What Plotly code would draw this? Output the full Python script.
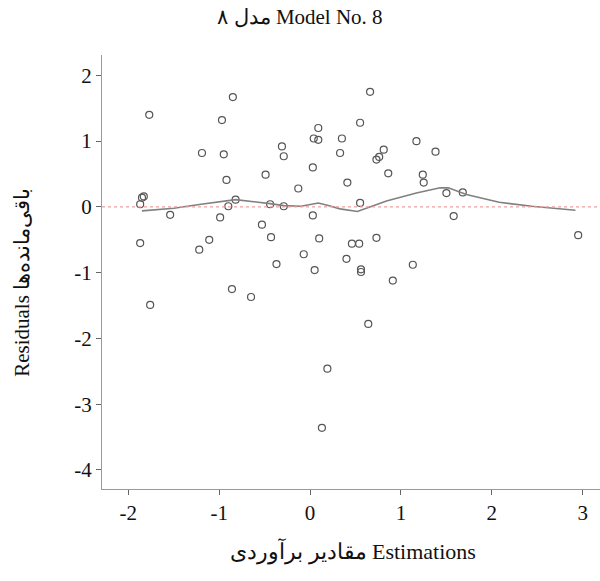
import plotly.graph_objects as go

# Residuals vs. estimated values for model no. 8
estimations = [
    -1.77, -0.85, -0.97, -1.19, -0.95, -0.92, -0.49, -0.31, -0.29, 0.03,
    -0.13, 0.04, 0.09, 0.09, 0.35, 0.33, -1.85, -1.83, -1.87, -1.54,
    -0.99, -0.90, -0.82, -0.44, -0.29, 0.03, -0.53, -0.43, -1.87, -1.11,
    -1.22, -0.07, 0.10, -0.37, 0.05, -0.86, -0.65, -1.76, 0.19, 0.13,
    0.66, 0.55, 0.81, 0.73, 0.76, 1.17, 1.38, 0.86, 0.41, 1.24,
    1.25, 1.50, 1.68, 0.55, 1.58, 2.95, 0.46, 0.54, 0.73, 0.40,
    0.56, 0.56, 0.91, 1.13, 0.64,
]
residuals = [
    1.40, 1.67, 1.32, 0.82, 0.80, 0.41, 0.49, 0.92, 0.77, 0.60,
    0.28, 1.04, 1.02, 1.20, 1.04, 0.82, 0.14, 0.16, 0.04, -0.12,
    -0.16, 0.01, 0.11, 0.04, 0.01, -0.13, -0.27, -0.46, -0.55, -0.50,
    -0.65, -0.72, -0.48, -0.87, -0.96, -1.25, -1.37, -1.49, -2.46, -3.36,
    1.75, 1.28, 0.87, 0.72, 0.76, 1.00, 0.84, 0.51, 0.37, 0.49,
    0.37, 0.21, 0.22, 0.06, -0.14, -0.43, -0.56, -0.56, -0.47, -0.79,
    -0.99, -0.95, -1.12, -0.88, -1.78,
]

# Smoothed trend through the residuals
smooth_x = [-1.85, -1.5, -1.2, -0.82, -0.44, -0.29, -0.1, 0.09, 0.2, 0.33,
            0.52, 0.84, 1.17, 1.43, 1.52, 1.72, 2.08, 2.44, 2.92]
smooth_y = [-0.06, -0.02, 0.04, 0.11, 0.05, 0.02, 0.01, 0.06, 0.02, -0.03,
            -0.07, 0.09, 0.21, 0.29, 0.29, 0.19, 0.07, 0.01, -0.05]

x_ticks = [-2, -1, 0, 1, 2, 3]
y_ticks = [2, 1, 0, -1, -2, -3, -4]

serif = "Liberation Serif, Times New Roman, serif"

fig = go.Figure()

fig.add_hline(y=0, line=dict(color="#f0a0a0", width=1.2, dash="dot"))

fig.add_trace(go.Scatter(
    x=estimations, y=residuals, mode="markers",
    marker=dict(symbol="circle-open", size=7, color="#555555",
                line=dict(width=1.2, color="#555555")),
    showlegend=False,
))

fig.add_trace(go.Scatter(
    x=smooth_x, y=smooth_y, mode="lines",
    line=dict(color="#808080", width=1.6),
    showlegend=False,
))

fig.update_layout(
    width=600, height=581,
    margin=dict(l=102, r=0, t=55, b=92),
    paper_bgcolor="white", plot_bgcolor="white",
    font=dict(family=serif, color="#111111", size=20),
    title=dict(text="مدل ۸ Model No. 8", x=0.5, xanchor="center",
               y=1 - 17 / 581, yanchor="middle", yref="container",
               font=dict(family=serif, size=21, color="#111111")),
    annotations=[
        dict(text="Residuals باقی‌مانده‌ها", textangle=-90,
             xref="paper", yref="paper", x=-0.161, y=0.477,
             xanchor="center", yanchor="middle", showarrow=False,
             font=dict(family=serif, size=21, color="#111111")),
        dict(text="مقادیر برآوردی Estimations",
             xref="paper", yref="paper", x=0.504, y=-0.145,
             xanchor="center", yanchor="middle", showarrow=False,
             font=dict(family=serif, size=22, color="#111111")),
    ],
)

fig.update_xaxes(
    range=[-2.29, 3.19], tickvals=x_ticks, ticktext=[str(v) for v in x_ticks],
    showgrid=False, zeroline=False, showline=True, linecolor="#999999",
    linewidth=1, ticks="outside", ticklen=5, tickcolor="#666666",
    tickfont=dict(family=serif, size=21, color="#111111"),
)
fig.update_yaxes(
    range=[-4.29, 2.31], tickvals=y_ticks, ticktext=[str(v) for v in y_ticks],
    showgrid=False, zeroline=False, showline=True, linecolor="#999999",
    linewidth=1, ticks="outside", ticklen=5, tickcolor="#666666",
    tickfont=dict(family=serif, size=21, color="#111111"),
)

fig.write_html("out.html")
